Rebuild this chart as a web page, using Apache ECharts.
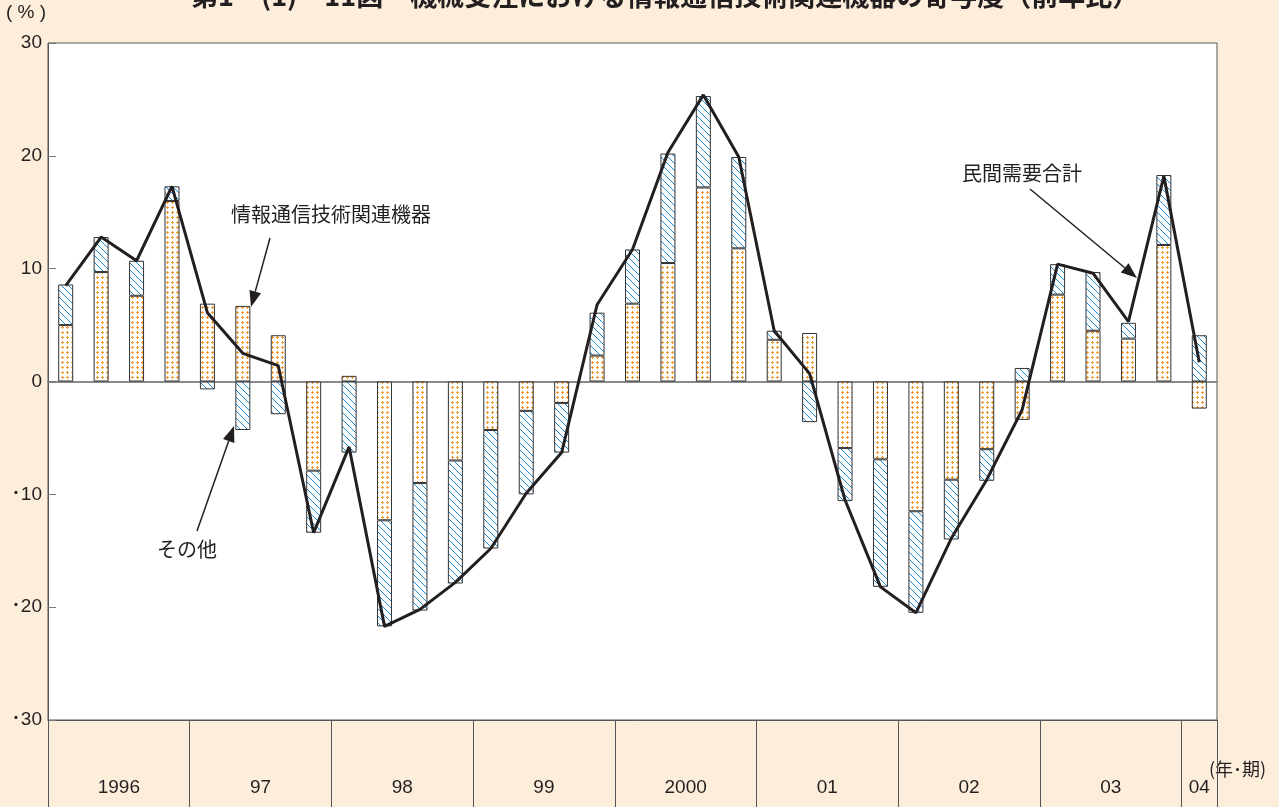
<!DOCTYPE html>
<html lang="ja">
<head>
    <meta charset="UTF-8">
    <title>機械受注における情報通信技術関連機器の寄与度</title>
    <script src="https://cdn.jsdelivr.net/npm/echarts@6/dist/echarts.min.js"></script>
    <style>
        html, body { margin: 0; padding: 0; width: 100%; height: 100%; background: #FDEEDB; }
        #container { width: 1279px; height: 807px; }
    </style>
</head>
<body>
    <div id="container"></div>
    <script>
        // quarters 1996Q1 .. 2004Q1
        let quarters = [];
        ['1996', '97', '98', '99', '2000', '01', '02', '03'].forEach(y => {
            ['I', 'II', 'III', 'IV'].forEach(q => quarters.push(y + q));
        });
        quarters.push('04I');

        // 情報通信技術関連機器
        let ictValues = [5.0, 9.7, 7.6, 16.0, 6.9, 6.7, 4.1, -7.9, 0.5, -12.3, -9.0, -7.0, -4.3, -2.6, -1.9, 2.3,
            6.9, 10.5, 17.2, 11.8, 3.7, 4.3, -5.9, -6.9, -11.5, -8.7, -6.0, -3.4, 7.7, 4.5, 3.8, 12.1, -2.4];
        // その他
        let otherValues = [3.6, 3.1, 3.1, 1.3, -0.7, -4.3, -2.9, -5.5, -6.3, -9.4, -11.3, -10.9, -10.5, -7.4, -4.4, 3.8,
            4.8, 9.7, 8.1, 8.1, 0.8, -3.6, -4.7, -11.3, -9.0, -5.3, -2.8, 1.2, 2.7, 5.2, 1.4, 6.2, 4.1];
        // 民間需要合計
        let totalValues = [8.5, 12.8, 10.7, 17.3, 6.1, 2.5, 1.4, -13.4, -5.8, -21.7, -20.2, -17.8, -14.8, -9.9, -6.3, 6.8,
            11.7, 20.3, 25.4, 19.9, 4.5, 0.7, -10.5, -18.2, -20.5, -13.9, -8.7, -2.5, 10.4, 9.6, 5.3, 18.2, 1.7];

        // year row: half-quarter slots, label at the middle of each year
        let yearLabels = {4: '1996', 12: '97', 20: '98', 28: '99', 36: '2000', 44: '01', 52: '02', 60: '03', 65: '04'};
        let yearSlots = [];
        for (let i = 0; i <= 66; i++) yearSlots.push(yearLabels[i] || '');

        const FONT = '"Liberation Sans", Arial, "Noto Sans CJK JP", sans-serif';
        const JFONT = '"Noto Sans CJK JP", sans-serif';

        function dotPattern() {
            let c = document.createElement('canvas');
            c.width = 5; c.height = 5;
            let g = c.getContext('2d');
            g.fillStyle = '#fff';
            g.fillRect(0, 0, 5, 5);
            g.fillStyle = '#F39A33';
            g.fillRect(2, 1, 1, 3);
            g.fillRect(1, 2, 3, 1);
            return c;
        }

        function hatchPattern() {
            let c = document.createElement('canvas');
            c.width = 7; c.height = 7;
            let g = c.getContext('2d');
            g.fillStyle = '#fff';
            g.fillRect(0, 0, 7, 7);
            g.strokeStyle = '#1E8CD4';
            g.lineWidth = 1;
            g.beginPath();
            g.moveTo(-1, -1); g.lineTo(8, 8);
            g.stroke();
            return c;
        }

        function arrow(sx, sy, tx, ty) {
            let dx = tx - sx, dy = ty - sy;
            let len = Math.sqrt(dx * dx + dy * dy);
            let ux = dx / len, uy = dy / len;
            let hl = 16, hw = 6;
            let bx = tx - ux * hl, by = ty - uy * hl;
            return [{
                type: 'line',
                shape: {x1: sx, y1: sy, x2: bx, y2: by},
                style: {stroke: '#231f20', lineWidth: 1.5}
            }, {
                type: 'polygon',
                shape: {points: [[tx, ty], [bx - uy * hw, by + ux * hw], [bx + uy * hw, by - ux * hw]]},
                style: {fill: '#231f20'}
            }];
        }

        function label(text, x, y, size) {
            return {
                type: 'text', x: x, y: y,
                style: {text: text, font: size + 'px ' + JFONT, fill: '#231f20', align: 'center', verticalAlign: 'middle'}
            };
        }

        let chart = echarts.init(document.getElementById('container'));
        let option = {
            backgroundColor: '#FDEEDB',
            animation: false,
            title: {
                text: '第1－(1)－11図　機械受注における情報通信技術関連機器の寄与度（前年比）',
                left: 186,
                top: -23,
                textStyle: {fontSize: 27, fontWeight: 'bold', color: '#231f20', fontFamily: JFONT}
            },
            grid: {
                left: 48, right: 62, top: 43, bottom: 87,
                show: true, backgroundColor: '#fff', borderColor: '#555', borderWidth: 1,
                outerBoundsMode: 'none'
            },
            xAxis: [{
                type: 'category',
                data: quarters,
                position: 'bottom',
                axisLine: {show: true, onZero: true, lineStyle: {color: '#8a8a8a', width: 2}},
                axisTick: {show: false},
                axisLabel: {show: false},
                splitLine: {show: false}
            }, {
                type: 'category',
                data: yearSlots,
                position: 'bottom',
                boundaryGap: false,
                axisLine: {show: true, onZero: false, lineStyle: {color: '#555', width: 1}},
                axisTick: {
                    show: true, inside: false, length: 90,
                    interval: idx => idx % 8 === 0 || idx === 66,
                    lineStyle: {color: '#555', width: 1}
                },
                axisLabel: {
                    interval: idx => !!yearLabels[idx],
                    margin: 58, fontSize: 19, color: '#231f20', fontFamily: FONT
                },
                splitLine: {show: false}
            }],
            yAxis: {
                type: 'value',
                min: -30, max: 30, interval: 10,
                axisLine: {show: true, lineStyle: {color: '#555'}},
                axisTick: {show: true, inside: true, length: 8, lineStyle: {color: '#777'}},
                axisLabel: {
                    margin: 6, fontSize: 19, color: '#231f20', fontFamily: FONT,
                    formatter: v => v < 0 ? '･' + (-v) : String(v)
                },
                splitLine: {show: false}
            },
            series: [{
                name: '情報通信技術関連機器',
                type: 'bar',
                stack: 'contrib',
                barWidth: 15,
                data: ictValues,
                itemStyle: {color: {image: dotPattern(), repeat: 'repeat'}, borderColor: '#333', borderWidth: 1}
            }, {
                name: 'その他',
                type: 'bar',
                stack: 'contrib',
                barWidth: 15,
                data: otherValues,
                itemStyle: {color: {image: hatchPattern(), repeat: 'repeat'}, borderColor: '#333', borderWidth: 1}
            }, {
                name: '民間需要合計',
                type: 'line',
                data: totalValues,
                symbol: 'none',
                z: 5,
                lineStyle: {color: '#231f20', width: 3}
            }],
            graphic: [
                {
                    type: 'text', left: 6, top: 3,
                    style: {text: '( % )', font: '19px ' + FONT, fill: '#231f20'}
                },
                {
                    type: 'text', left: 1209, top: 760,
                    style: {text: '(年･期)', font: '18px ' + JFONT, fill: '#231f20'}
                },
                label('情報通信技術関連機器', 331, 214, 20),
                label('その他', 187, 549, 20),
                label('民間需要合計', 1022, 173, 20),
                ...arrow(270, 238, 251, 307),
                ...arrow(197, 531, 234, 426),
                ...arrow(1030, 189, 1137, 278)
            ]
        };
        chart.setOption(option);
    </script>
</body>
</html>
